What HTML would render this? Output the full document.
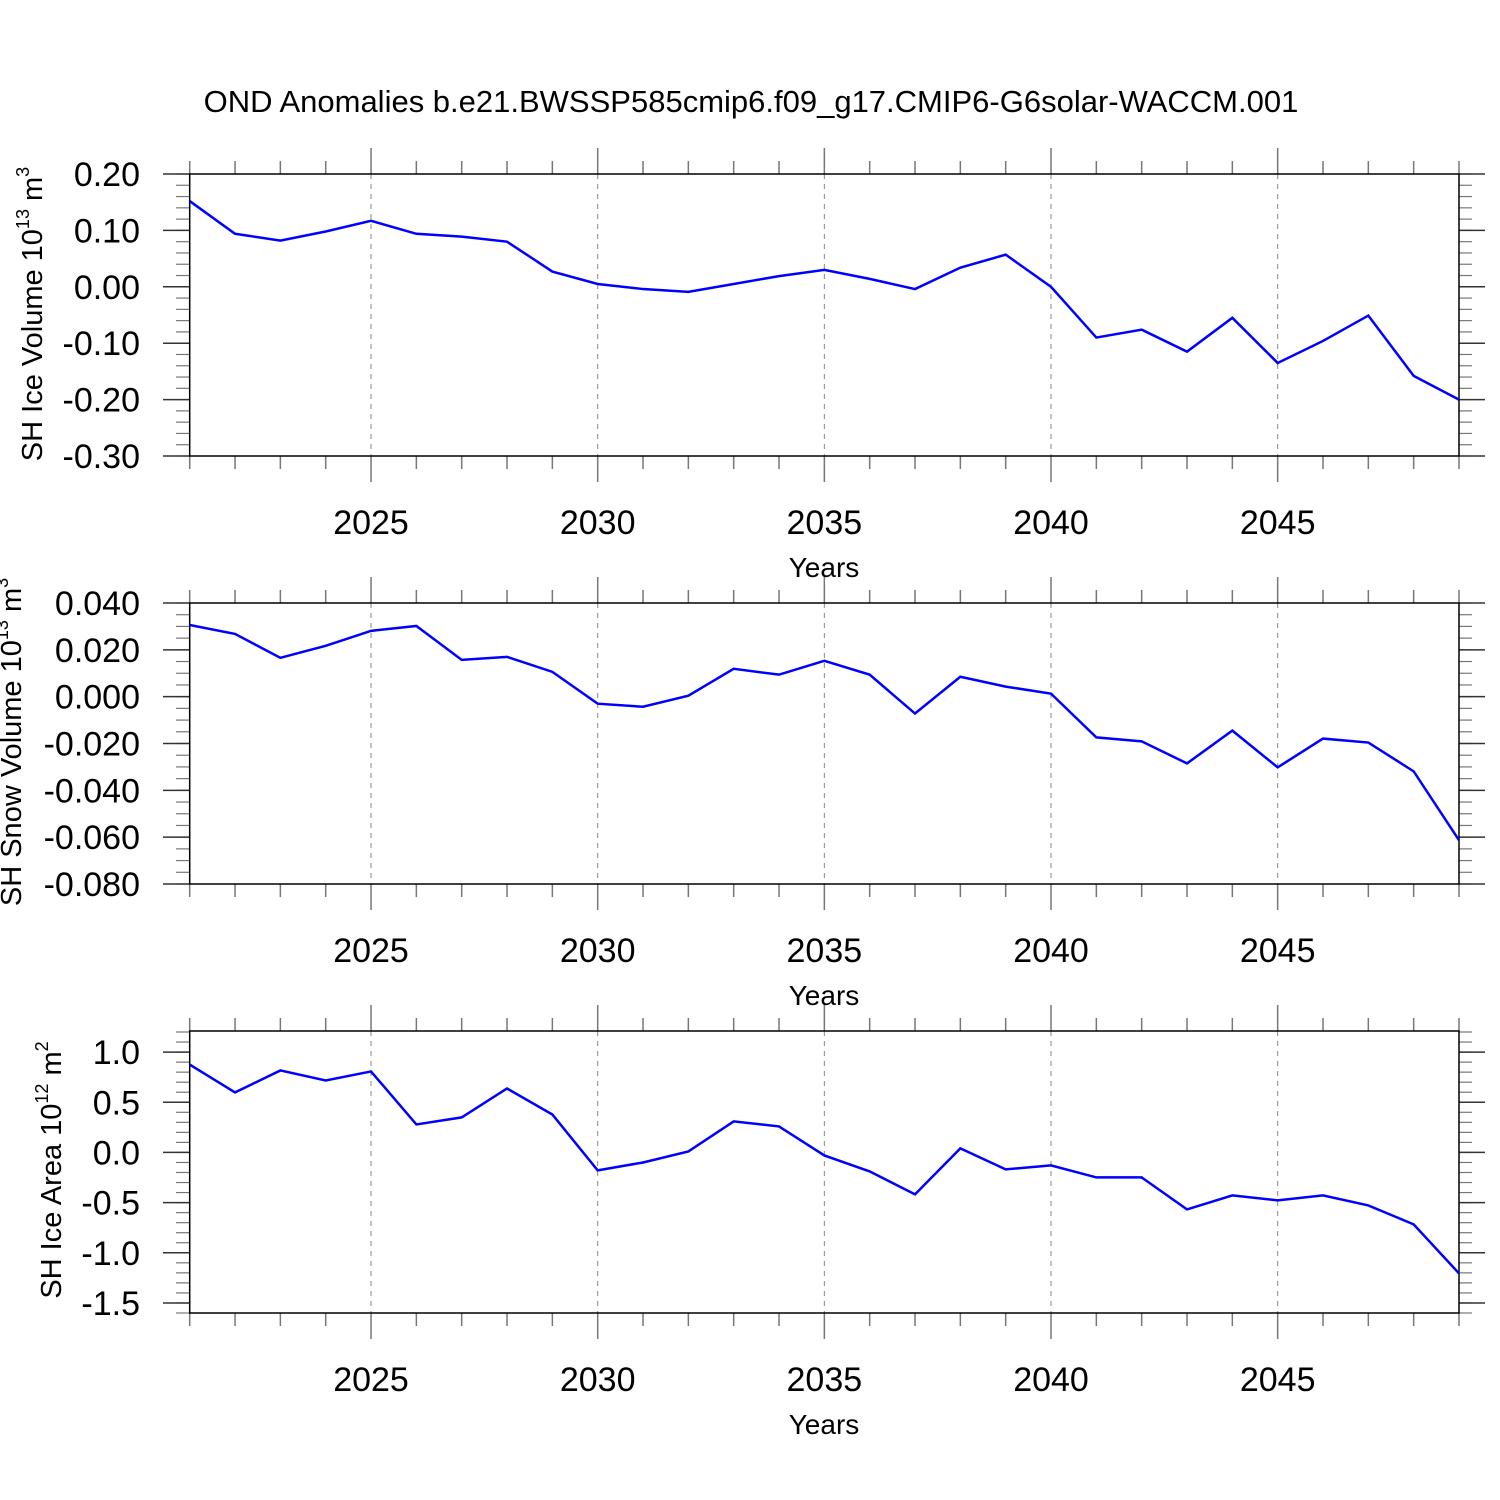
<!DOCTYPE html>
<html><head><meta charset="utf-8"><style>
body{margin:0;background:#fff}
svg{display:block;font-family:"Liberation Sans",sans-serif}
</style></head><body>
<svg id="c" width="1500" height="1500">
<text x="751" y="112" font-size="31" text-anchor="middle">OND Anomalies b.e21.BWSSP585cmip6.f09_g17.CMIP6-G6solar-WACCM.001</text>
</svg>
<script>
const years=[2021,2022,2023,2024,2025,2026,2027,2028,2029,2030,2031,2032,2033,2034,2035,2036,2037,2038,2039,2040,2041,2042,2043,2044,2045,2046,2047,2048,2049];
const iceVol=[0.152,0.094,0.082,0.098,0.117,0.094,0.089,0.080,0.027,0.005,-0.004,-0.009,0.005,0.019,0.030,0.014,-0.004,0.034,0.057,0.0,-0.090,-0.076,-0.115,-0.055,-0.135,-0.096,-0.051,-0.158,-0.200];
const snowVol=[0.0306,0.0268,0.0166,0.0217,0.0281,0.0302,0.0157,0.017,0.0106,-0.003,-0.0043,0.0004,0.0119,0.0094,0.0153,0.0094,-0.0072,0.0085,0.0043,0.0013,-0.0174,-0.0191,-0.0285,-0.0145,-0.0302,-0.0179,-0.0196,-0.0319,-0.0613];
const iceArea=[0.876,0.598,0.817,0.717,0.807,0.279,0.349,0.637,0.378,-0.179,-0.10,0.01,0.309,0.259,-0.03,-0.189,-0.418,0.04,-0.169,-0.129,-0.249,-0.249,-0.568,-0.428,-0.478,-0.428,-0.528,-0.717,-1.205];
const xTicks=[2025,2030,2035,2040,2045];
const ticks1=[0.2,0.1,0,-0.1,-0.2,-0.3], lab1=["0.20","0.10","0.00","-0.10","-0.20","-0.30"];
const ticks2=[0.04,0.02,0,-0.02,-0.04,-0.06,-0.08], lab2=["0.040","0.020","0.000","-0.020","-0.040","-0.060","-0.080"];
const ticks3=[1,0.5,0,-0.5,-1,-1.5], lab3=["1.0","0.5","0.0","-0.5","-1.0","-1.5"];
const NS="http://www.w3.org/2000/svg", svg=document.getElementById('c');
function mk(t,a,p){const e=document.createElementNS(NS,t);for(const k in a)e.setAttribute(k,a[k]);(p||svg).appendChild(e);return e;}
const X0=189.7,X1=1459,xs=y=>X0+(y-2021)*(X1-X0)/28;
function panel(id,top,bot,ymax,ymin,data,ticks,labs,minorStep,title,sup,unit,tx,tyc){
  const g=mk('g',{});
  
  
  const ys=v=>top+(ymax-v)*(bot-top)/(ymax-ymin);
  xTicks.forEach(y=>{const l=mk('line',{x1:xs(y),x2:xs(y),y1:top,y2:bot,stroke:'#888','stroke-dasharray':'5,5','stroke-width':1},g);
    });
  for(let y=2021;y<=2049;y++){const maj=xTicks.includes(y);const L=maj?26:13;
    mk('line',{x1:xs(y),x2:xs(y),y1:top-L,y2:top,stroke:'#777','stroke-width':1.5},g);
    mk('line',{x1:xs(y),x2:xs(y),y1:bot,y2:bot+L,stroke:'#777','stroke-width':1.5},g);}
  xTicks.forEach(y=>{const t=mk('text',{x:xs(y),y:bot+78,'font-size':34,'text-anchor':'middle'},g);t.textContent=y;
    });
  const xt=mk('text',{x:824,y:bot+121,'font-size':28,'text-anchor':'middle'},g);xt.textContent='Years';
  
  for(let v=ymin;v<=ymax+1e-9;v+=minorStep){const yy=ys(v);
    mk('line',{x1:176,x2:189,y1:yy,y2:yy,stroke:'#777','stroke-width':1.2},g);
    mk('line',{x1:1459,x2:1472,y1:yy,y2:yy,stroke:'#777','stroke-width':1.2},g);}
  ticks.forEach((v,i)=>{const yy=ys(v);
    mk('line',{x1:163,x2:189,y1:yy,y2:yy,stroke:'#333','stroke-width':1.5},g);
    mk('line',{x1:1459,x2:1485,y1:yy,y2:yy,stroke:'#333','stroke-width':1.5},g);
    const t=mk('text',{x:140,y:yy+12,'font-size':34,'text-anchor':'end'},g);t.textContent=labs[i];
    });
  mk('rect',{x:X0,y:top,width:X1-X0,height:bot-top,fill:'none',stroke:'#000','stroke-width':1.5},g);
  const pts=data.map((v,i)=>xs(years[i])+','+ys(v)).join(' ');
  const pl=mk('polyline',{points:pts,fill:'none',stroke:'#0000ff','stroke-width':2.5},g);
  
  const yt=mk('text',{transform:`translate(${tx},${tyc}) rotate(-90)`,'font-size':29,'text-anchor':'middle'},g);
  yt.innerHTML=title+'<tspan dy="-13" font-size="18">'+sup+'</tspan><tspan dy="13"> '+unit+'</tspan><tspan dy="-13" font-size="18">'+(id==='ice-area'?'2':'3')+'</tspan>';
  
}
panel('ice-volume',174,456,0.2,-0.3,iceVol,ticks1,lab1,0.02,'SH Ice Volume 10','13','m',42,314);
panel('snow-volume',603,884,0.04,-0.08,snowVol,ticks2,lab2,0.005,'SH Snow Volume 10','13','m',21,742);
panel('ice-area',1031,1313,1.21,-1.6,iceArea,ticks3,lab3,0.1,'SH Ice Area 10','12','m',61,1170);
</script>
</body></html>
